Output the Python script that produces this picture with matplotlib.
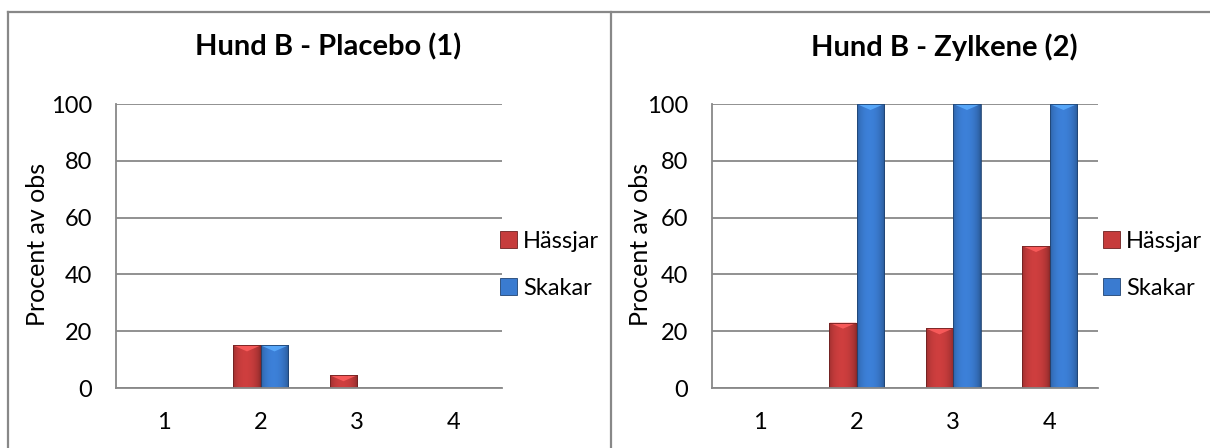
import numpy as np
import matplotlib.pyplot as plt
from matplotlib.patches import Polygon, Patch
from matplotlib.lines import Line2D
from matplotlib.colors import to_rgb

plt.rcParams['font.family'] = ['Lato', 'DejaVu Sans']

# data
categories = ['1', '2', '3', '4']
series = ['Hässjar', 'Skakar']
placebo_hassjar = [0, 15, 4.5, 0]
placebo_skakar = [0, 15, 0, 0]
zylkene_hassjar = [0, 23, 21, 50]
zylkene_skakar = [0, 100, 100, 100]
titles = ['Hund B - Placebo (1)', 'Hund B - Zylkene (2)']
yticks = [0, 20, 40, 60, 80, 100]
ylabel = 'Procent av obs'

colors = {'Hässjar': '#C63C3C', 'Skakar': '#3A7BD0'}
grey = '#888888'

W, H = 1210, 448
fig = plt.figure(figsize=(W / 100, H / 100), dpi=100)


def px(x, y):
    return x / W, 1 - y / H


def shade_bar(ax, patch, color, bevel):
    # fake the Excel 2007 style rounded/bevelled column
    x0, y0 = patch.get_x(), patch.get_y()
    w, h = patch.get_width(), patch.get_height()
    if h <= 0:
        patch.set_visible(False)
        return
    base = np.array(to_rgb(color))
    t = np.linspace(0, 1, 80)
    f = 0.72 + 0.36 * np.sin(np.pi * t) ** 0.5 - 0.08 * t
    img = np.clip(base[None, :] * f[:, None], 0, 1)[None, :, :]
    im = ax.imshow(img, extent=(x0, x0 + w, y0, y0 + h), aspect='auto',
                   interpolation='bilinear', zorder=2.1)
    im.set_clip_path(patch)
    d = min(bevel, h * 0.6)
    light = np.clip(base * 1.25 + 0.08, 0, 1)
    tri = Polygon([(x0, y0 + h), (x0 + w, y0 + h), (x0 + w / 2, y0 + h - d)],
                  closed=True, facecolor=light, edgecolor='none', alpha=0.85,
                  zorder=2.2)
    ax.add_patch(tri)
    patch.set_edgecolor(base * 0.55)
    patch.set_linewidth(0.6)
    patch.set_zorder(2.3)
    patch.set_facecolor('none')


def draw_panel(rect, title, hassjar, skakar, title_xy, ylab_xy, leg_x):
    ax = fig.add_axes(rect)
    x = np.arange(1, len(categories) + 1)
    bw = 0.285
    bars_h = ax.bar(x - bw / 2, hassjar, bw, color=colors['Hässjar'], zorder=2)
    bars_s = ax.bar(x + bw / 2, skakar, bw, color=colors['Skakar'], zorder=2)
    ax.set_xlim(0.5, len(categories) + 0.5)
    ax.set_ylim(0, 100)
    ax_h_px = rect[3] * H
    bevel = 100 / ax_h_px * 6
    for p in bars_h:
        shade_bar(ax, p, colors['Hässjar'], bevel)
    for p in bars_s:
        shade_bar(ax, p, colors['Skakar'], bevel)
    ax.set_xlim(0.5, len(categories) + 0.5)
    ax.set_ylim(0, 100)

    ax.set_xticks(x)
    ax.set_xticklabels(categories)
    ax.set_yticks(yticks)
    ax.tick_params(axis='both', length=0, labelsize=17)
    ax.tick_params(axis='y', pad=17)
    ax.tick_params(axis='x', pad=17)
    ax.yaxis.grid(True, color=grey, linewidth=1.3)
    ax.set_axisbelow(True)
    for s in ['top', 'right']:
        ax.spines[s].set_visible(False)
    for s in ['left', 'bottom']:
        ax.spines[s].set_color(grey)
        ax.spines[s].set_linewidth(1.3)

    handles = [Patch(facecolor=colors[s], edgecolor=np.array(to_rgb(colors[s])) * 0.55,
                     linewidth=0.6, label=s) for s in series]
    ax.legend(handles=handles, loc='center left', bbox_to_anchor=(leg_x, 0.433),
              frameon=False, fontsize=17, handlelength=0.72, handleheight=0.72,
              handletextpad=0.25, labelspacing=1.1, borderpad=0, borderaxespad=0)

    fig.text(*px(*title_xy), title, fontsize=21, fontweight='bold',
             ha='center', va='center')
    fig.text(*px(*ylab_xy), ylabel, fontsize=18, rotation=90,
             ha='center', va='center')
    return ax


left = draw_panel([116 / W, 1 - 388 / H, 386 / W, 284 / H], titles[0],
                  placebo_hassjar, placebo_skakar, (328, 47), (38, 244), 0.995)
right = draw_panel([712 / W, 1 - 388 / H, 386 / W, 284 / H], titles[1],
                   zylkene_hassjar, zylkene_skakar, (944, 47), (640, 244), 1.013)

# chart area borders
for xs, ys in [((7.5, 7.5), (12, H + 5)), ((611, 611), (12, H + 5)),
               ((7.5, W + 5), (12, 12))]:
    fig.add_artist(Line2D([v / W for v in xs], [1 - v / H for v in ys],
                          color=grey, linewidth=1.6))

fig.savefig('out.png', dpi=100, facecolor='white')
